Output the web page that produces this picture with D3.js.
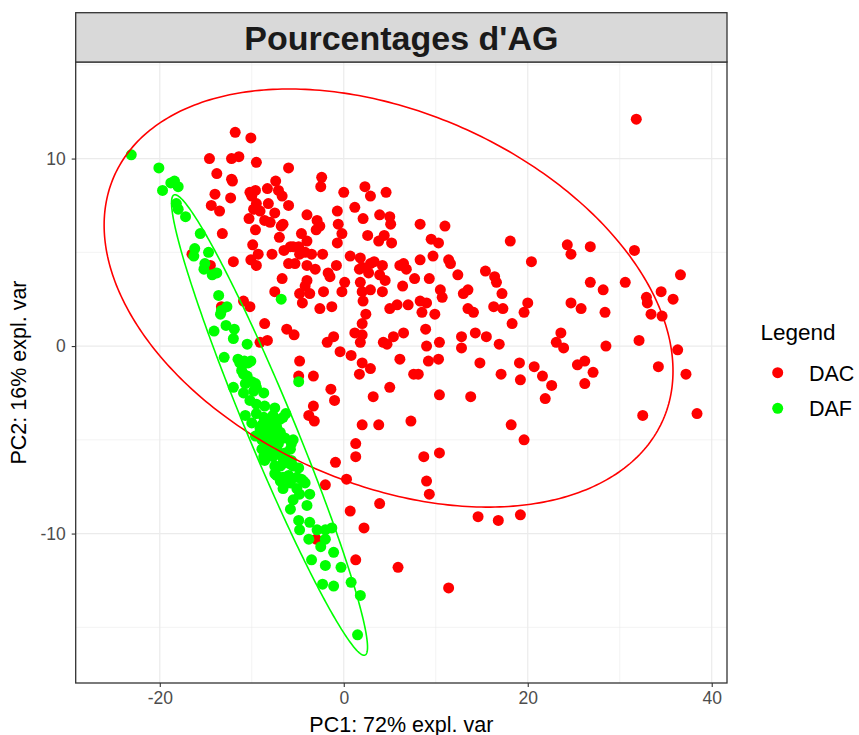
<!DOCTYPE html>
<html>
<head>
<meta charset="utf-8">
<script src="https://d3js.org/d3.v7.min.js"></script>
<style>
  html, body { margin: 0; padding: 0; background: #ffffff; }
  svg { display: block; font-family: "Liberation Sans", Arial, Helvetica, sans-serif; }
</style>
</head>
<body>
<svg id="chart" width="859" height="735"></svg>
<script>
// ---- Data (PC scores) ----
const chartTitle = "Pourcentages d'AG";
const xTitle = "PC1: 72% expl. var";
const yTitle = "PC2: 16% expl. var";
const groups = ["DAC", "DAF"];
const groupColors = ["#FF0000", "#00FF00"];

const dacPC1 = [-11.8,-10.1,-14.6,-12.2,-11.4,-9.5,-6.0,-13.8,-12.2,-12.1,-7.4,-14.0,-12.3,-10.2,-9.6,-10.0,-8.3,-7.1,-6.7,-6.0,
  -14.4,-13.5,-9.5,-9.8,-8.2,-9.1,-7.5,-10.3,-8.6,-8.0,-6.6,-6.8,-9.6,-7.0,-13.2,-9.9,-9.3,-7.8,-6.5,-5.8,
  -6.0,-12.0,-10.1,-9.5,-6.7,-7.5,-16.5,-14.5,-2.4,-2.5,0.0,2.3,2.9,4.6,-0.7,1.2,2.1,3.9,5.0,5.1,
  -4.0,-2.9,-2.6,-3.0,-0.6,-0.2,-0.7,2.6,3.8,4.4,5.2,8.3,11.0,9.5,10.3,-4.6,-4.0,-5.5,-4.9,-4.2,
  -3.5,-4.8,-2.3,0.7,1.8,2.0,2.9,3.3,4.2,1.7,2.7,3.9,4.5,6.1,6.5,6.8,8.3,9.7,11.4,11.6,
  12.4,9.3,7.7,6.4,15.4,16.4,16.6,-5.3,-4.0,-3.1,-0.8,-1.7,-1.5,-4.0,-4.2,0.1,-0.2,-2.2,1.8,2.0,
  2.9,4.2,10.5,10.7,13.0,13.5,-4.8,-3.7,31.8,18.1,20.4,24.3,24.7,26.8,31.6,17.2,26.8,28.2,30.6,36.6,
  32.9,33.0,34.5,35.8,20.0,19.6,24.7,25.8,28.4,33.4,34.6,18.3,15.5,16.9,16.3,17.3,23.6,23.1,23.9,28.5,
  32.1,36.3,14.8,19.1,20.7,21.6,22.6,21.9,17.1,19.2,25.4,26.2,27.1,26.2,34.2,37.2,18.2,19.6,32.5,38.4,
  -4.5,-2.6,-1.3,2.1,5.0,5.8,7.0,8.3,9.0,8.5,9.9,13.5,14.1,2.4,2.0,-6.2,-5.4,-1.8,-1.1,1.2,
  2.0,1.8,4.3,4.7,5.4,6.5,8.9,9.0,10.4,12.8,12.8,14.3,-0.4,0.8,2.0,2.9,1.7,6.1,9.2,10.3,
  -4.8,-4.9,-3.3,-1.4,-1.0,7.6,8.1,5.0,3.2,10.4,13.8,-3.3,-3.8,-3.2,2.0,3.8,7.3,1.3,1.3,8.7,
  10.4,-0.9,0.3,9.0,9.3,3.9,14.6,16.8,19.2,5.9,11.4,-2.0,0.7,2.2,-3.0,1.3,-13.3,-10.9,-10.2,-8.6,
  -9.1,-8.3];
const dacPC2 = [11.4,11.1,10.0,10.0,10.1,9.8,9.5,9.2,8.9,8.8,8.8,8.1,7.9,8.2,8.3,8.0,8.4,8.3,8.0,7.5,
  7.5,7.2,7.6,7.3,7.6,7.2,7.1,6.8,6.7,6.6,6.5,6.4,6.2,5.8,6.0,5.4,4.9,4.9,5.1,5.3,
  4.4,4.5,4.6,4.3,3.6,2.9,4.9,4.3,9.0,8.5,8.2,8.5,8.0,8.2,7.2,7.4,6.8,7.0,6.9,6.5,
  7.0,6.7,6.4,6.2,6.5,6.0,5.5,5.9,5.6,5.9,5.5,6.5,6.4,5.7,5.5,6.0,5.6,5.3,5.3,5.0,
  4.9,4.9,4.9,4.8,4.7,4.2,4.4,4.5,4.3,4.1,3.9,3.8,3.5,4.3,4.4,4.1,4.6,4.8,4.6,4.4,
  3.8,3.6,3.6,3.2,4.0,3.7,3.4,4.4,4.3,4.1,4.3,3.9,3.7,3.5,3.2,3.4,2.9,2.9,3.4,2.9,
  3.0,2.9,3.0,2.6,2.8,3.0,2.8,2.8,12.1,5.6,4.5,5.4,4.9,5.3,5.1,2.8,3.4,3.0,3.4,3.8,
  2.6,2.3,2.9,2.5,2.3,1.8,2.3,2.0,1.8,1.7,1.6,1.2,0.5,0.1,2.1,2.0,0.7,0.2,-0.1,0.0,
  0.3,-0.2,-0.9,-0.9,-1.1,-1.6,-2.1,-2.8,-1.5,-1.8,-1.0,-0.8,-1.4,-2.0,-1.1,-1.5,-4.2,-5.0,-3.7,-3.6,
  2.3,2.0,2.1,2.4,2.0,2.2,2.2,2.4,2.3,1.8,1.7,2.0,1.8,1.7,1.2,0.9,0.6,0.2,0.5,0.7,
  0.6,0.2,0.2,0.1,0.5,0.7,0.9,0.0,0.2,0.5,-0.1,0.7,-0.3,-0.5,-0.9,-1.2,-1.5,-0.7,-0.8,-0.7,
  -0.8,-1.6,-1.6,-2.3,-2.9,-1.5,-1.5,-2.2,-2.7,-2.6,-2.7,-3.2,-3.7,-4.0,-4.2,-4.2,-4.0,-5.2,-5.9,-5.9,
  -5.7,-6.2,-7.1,-7.2,-7.9,-8.4,-9.1,-9.3,-9.0,-11.8,-12.9,-7.4,-8.8,-9.7,-10.3,-11.4,2.1,2.4,2.1,1.2,
  0.2,0.3];

const dafPC1 = [-23.1,-20.1,-18.4,-18.0,-18.8,-19.7,-18.2,-18.0,-17.2,-15.6,-16.2,-16.3,-14.7,-15.1,-15.2,-14.3,-13.8,-13.6,-6.8,-13.3,
  -12.7,-13.4,-12.8,-11.9,-14.1,-12.0,-10.5,-13.0,-11.5,-10.8,-10.1,-11.1,-10.5,-10.0,-9.5,-8.7,-12.0,-10.9,-10.2,-9.5,
  -8.6,-7.5,-10.7,-10.0,-9.1,-8.2,-7.5,-6.6,-6.3,-9.6,-8.7,-7.8,-7.1,-6.4,-5.7,-8.9,-8.0,-7.3,-6.4,-8.6,
  -7.5,-6.7,-6.0,-7.5,-6.6,-11.3,-10.4,-10.9,-10.7,-9.6,-9.8,-9.5,-8.7,-7.7,-6.9,-8.9,-8.0,-7.3,-9.1,-8.4,
  -7.7,-6.9,-5.5,-8.9,-8.0,-7.1,-8.6,-7.7,-5.8,-8.7,-7.7,-6.7,-5.7,-6.9,-5.8,-4.9,-7.3,-6.0,-5.1,-4.4,
  -6.9,-5.8,-6.2,-5.5,-4.6,-6.6,-5.1,-4.2,-3.7,-4.8,-5.5,-4.0,-5.8,-4.9,-3.7,-4.8,-3.8,-2.9,-2.0,-1.3,
  -2.0,-2.5,-1.1,-3.5,-2.0,-0.3,-2.3,-1.1,0.8,1.8,1.5,-4.9];
const dafPC2 = [10.2,9.5,8.8,8.5,8.7,8.3,7.6,7.3,6.9,6.0,5.2,4.8,5.0,4.4,4.1,3.8,3.9,2.7,2.5,1.9,
  2.1,1.7,1.1,0.9,0.8,0.4,0.1,-0.6,-0.7,-0.8,-0.8,-1.3,-1.6,-1.9,-2.2,-2.5,-2.2,-2.5,-2.9,-3.1,
  -3.2,-3.3,-3.7,-4.1,-4.4,-4.3,-4.1,-3.8,-3.6,-4.8,-5.0,-4.8,-5.0,-4.9,-5.2,-5.5,-5.7,-5.5,-5.7,-6.1,
  -6.4,-6.3,-6.1,-6.8,-7.0,-0.9,-0.9,-1.5,-2.0,-2.0,-2.4,-3.6,-3.8,-3.7,-3.9,-4.2,-4.0,-4.3,-4.6,-4.7,
  -4.7,-4.6,-5.0,-5.0,-5.1,-5.2,-5.5,-5.5,-5.5,-5.9,-5.9,-5.9,-6.1,-6.4,-6.3,-6.5,-6.9,-6.9,-7.0,-7.2,
  -7.2,-7.3,-6.2,-6.4,-7.1,-7.6,-7.6,-7.3,-7.9,-7.9,-8.2,-8.5,-8.7,-9.3,-9.4,-9.8,-10.3,-9.8,-9.8,-9.7,
  -10.3,-10.7,-11.0,-11.4,-11.7,-11.8,-12.7,-12.8,-12.6,-13.3,-15.4,-1.9];

// Confidence ellipses: centre and two conjugate semi-diameters, in PC units
const dacEllipseCenter = [4.87, 2.56];
const dacEllipseAxisA = [30.92, -3.89];
const dacEllipseAxisB = [0.0, 10.45];
const dafEllipseCenter = [-8.07, -4.21];
const dafEllipseAxisA = [10.38, -12.27];
const dafEllipseAxisB = [2.395, 0.488];

const xTicks = [-20, 0, 20, 40];
const xMinor = [-10, 10, 30];
const yTicks = [-10, 0, 10];
const yMinor = [-15, -5, 5, 15];

// ---- Layout ----
const svg = d3.select("#chart");
const panel = { left: 75.7, right: 727, top: 62, bottom: 683 };
const strip = { top: 12.7, bottom: 62 };

const x = d3.scaleLinear().domain([-29.14, 41.66]).range([panel.left, panel.right]);
const y = d3.scaleLinear().domain([-17.97, 15.15]).range([panel.bottom, panel.top]);

// panel background
svg.append("rect").attr("x", panel.left).attr("y", panel.top)
  .attr("width", panel.right - panel.left).attr("height", panel.bottom - panel.top)
  .attr("fill", "#ffffff");

const grid = svg.append("g");
grid.selectAll(".xminor").data(xMinor).enter().append("line")
  .attr("x1", d => x(d)).attr("x2", d => x(d)).attr("y1", panel.top).attr("y2", panel.bottom)
  .attr("stroke", "#EBEBEB").attr("stroke-width", 0.6);
grid.selectAll(".yminor").data(yMinor).enter().append("line")
  .attr("y1", d => y(d)).attr("y2", d => y(d)).attr("x1", panel.left).attr("x2", panel.right)
  .attr("stroke", "#EBEBEB").attr("stroke-width", 0.6);
grid.selectAll(".xmajor").data(xTicks).enter().append("line")
  .attr("x1", d => x(d)).attr("x2", d => x(d)).attr("y1", panel.top).attr("y2", panel.bottom)
  .attr("stroke", "#EBEBEB").attr("stroke-width", 1.2);
grid.selectAll(".ymajor").data(yTicks).enter().append("line")
  .attr("y1", d => y(d)).attr("y2", d => y(d)).attr("x1", panel.left).attr("x2", panel.right)
  .attr("stroke", "#EBEBEB").attr("stroke-width", 1.2);

// clip
svg.append("defs").append("clipPath").attr("id", "clip")
  .append("rect").attr("x", panel.left).attr("y", panel.top)
  .attr("width", panel.right - panel.left).attr("height", panel.bottom - panel.top);
const plot = svg.append("g").attr("clip-path", "url(#clip)");

const dac = dacPC1.map((v, i) => ({ pc1: v, pc2: dacPC2[i] }));
const daf = dafPC1.map((v, i) => ({ pc1: v, pc2: dafPC2[i] }));
const R = 5.5;

plot.selectAll(".dac").data(dac).enter().append("circle")
  .attr("cx", d => x(d.pc1)).attr("cy", d => y(d.pc2)).attr("r", R).attr("fill", groupColors[0]);
plot.selectAll(".daf").data(daf).enter().append("circle")
  .attr("cx", d => x(d.pc1)).attr("cy", d => y(d.pc2)).attr("r", R).attr("fill", groupColors[1]);

function ellipsePts(c, a, b) {
  return d3.range(0, 361).map(i => {
    const t = i * Math.PI / 180;
    return [c[0] + a[0] * Math.cos(t) + b[0] * Math.sin(t), c[1] + a[1] * Math.cos(t) + b[1] * Math.sin(t)];
  });
}
const line = d3.line().x(d => x(d[0])).y(d => y(d[1]));
plot.append("path").attr("d", line(ellipsePts(dacEllipseCenter, dacEllipseAxisA, dacEllipseAxisB)))
  .attr("fill", "none").attr("stroke", groupColors[0]).attr("stroke-width", 1.6);
plot.append("path").attr("d", line(ellipsePts(dafEllipseCenter, dafEllipseAxisA, dafEllipseAxisB)))
  .attr("fill", "none").attr("stroke", groupColors[1]).attr("stroke-width", 1.6);

// panel border
svg.append("rect").attr("x", panel.left).attr("y", panel.top)
  .attr("width", panel.right - panel.left).attr("height", panel.bottom - panel.top)
  .attr("fill", "none").attr("stroke", "#333333").attr("stroke-width", 1.3);

// strip
svg.append("rect").attr("x", panel.left).attr("y", strip.top)
  .attr("width", panel.right - panel.left).attr("height", strip.bottom - strip.top)
  .attr("fill", "#D9D9D9").attr("stroke", "#333333").attr("stroke-width", 1.3);
svg.append("text").attr("x", (panel.left + panel.right) / 2).attr("y", 49.5)
  .attr("text-anchor", "middle").attr("font-size", 34).attr("font-weight", "bold")
  .attr("fill", "#1A1A1A").text(chartTitle);

// axes
const xAxis = d3.axisBottom(x).tickValues(xTicks).tickSize(4).tickPadding(4).tickFormat(d3.format("d"));
const gx = svg.append("g").attr("transform", `translate(0,${panel.bottom})`).call(xAxis);
gx.select(".domain").remove();
gx.selectAll(".tick line").attr("stroke", "#333333").attr("stroke-width", 1.1);
gx.selectAll(".tick text").attr("fill", "#4D4D4D").attr("font-size", 17.5)
  .attr("font-family", "Liberation Sans, Arial, sans-serif").attr("dy", "0.71em").attr("y", 9)
  .text(d => d < 0 ? "-" + Math.abs(d) : String(d));

const yAxis = d3.axisLeft(y).tickValues(yTicks).tickSize(4).tickPadding(4).tickFormat(d3.format("d"));
const gy = svg.append("g").attr("transform", `translate(${panel.left},0)`).call(yAxis);
gy.select(".domain").remove();
gy.selectAll(".tick line").attr("stroke", "#333333").attr("stroke-width", 1.1);
gy.selectAll(".tick text").attr("fill", "#4D4D4D").attr("font-size", 17.5)
  .attr("font-family", "Liberation Sans, Arial, sans-serif").attr("x", -10)
  .text(d => d < 0 ? "-" + Math.abs(d) : String(d));

svg.append("text").attr("x", (panel.left + panel.right) / 2).attr("y", 731.5)
  .attr("text-anchor", "middle").attr("font-size", 21.5).attr("fill", "#000000").text(xTitle);
svg.append("text").attr("transform", `translate(26,${(panel.top + panel.bottom) / 2}) rotate(-90)`)
  .attr("text-anchor", "middle").attr("font-size", 21.5).attr("fill", "#000000").text(yTitle);

// legend
const lg = svg.append("g");
lg.append("text").attr("x", 760.5).attr("y", 340).attr("font-size", 22.5).attr("fill", "#000000").text("Legend");
groups.forEach((g, i) => {
  const cy = 372.7 + i * 35.6;
  lg.append("circle").attr("cx", 777.7).attr("cy", cy).attr("r", R).attr("fill", groupColors[i]);
  lg.append("text").attr("x", 809).attr("y", cy + 8).attr("font-size", 21.5).attr("fill", "#000000").text(g);
});
</script>
</body>
</html>
